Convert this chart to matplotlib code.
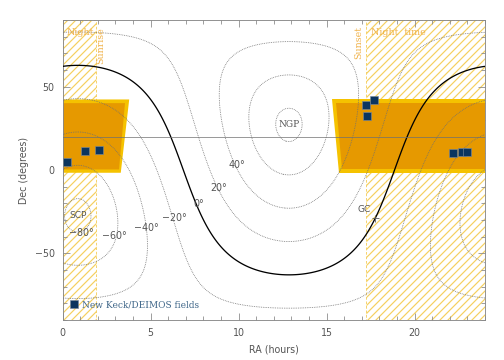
import numpy as np
import matplotlib
matplotlib.use("Agg")
import matplotlib.pyplot as plt
from matplotlib.patches import Polygon, Rectangle
from matplotlib.ticker import MultipleLocator

# Keck/DEIMOS fields (RA in hours, Dec in degrees)
field_ra = [0.24, 1.25, 2.05, 17.23, 17.70, 17.31, 22.18, 22.69, 22.95]
field_dec = [4.6, 11.6, 12.2, 39.2, 42.0, 32.4, 10.4, 11.0, 10.6]

# galactic reference points
ngp_ra, ngp_dec = 12.857, 27.128
sgp_ra, sgp_dec = 0.857, -27.128
gc_ra, gc_dec = 17.76, -28.94
keck_lat = 19.8

b_levels = [-80, -60, -40, -20, 20, 40, 60, 80]
b_labels = [("\u221280\u00b0", 1.05, -37.5), ("\u221260\u00b0", 2.95, -39.5),
            ("\u221240\u00b0", 4.75, -34.5), ("\u221220\u00b0", 6.35, -28.5),
            ("0\u00b0", 7.75, -20.5), ("20\u00b0", 8.85, -10.5), ("40\u00b0", 9.9, 3.0)]

# observable windows (outer yellow rim, inner orange fill)
left_outer = [(0, 42.4), (3.78, 42.4), (3.30, -1.6), (0, -1.6)]
left_inner = [(0, 40.2), (3.54, 40.2), (3.20, 0.4), (0, 0.4)]
right_outer = [(15.28, 42.4), (24, 42.4), (24, -1.6), (15.70, -1.6)]
right_inner = [(15.53, 40.2), (24, 40.2), (24, 0.4), (15.90, 0.4)]

# night-time hatched ranges in RA
sunrise_ra = 1.89
sunset_ra = 17.23

hatch_col = '#F5D060'
plt.rcParams['hatch.color'] = hatch_col
plt.rcParams['hatch.linewidth'] = 1.2

fig = plt.figure(figsize=(7, 5), dpi=72)
ax = fig.add_axes([0.1244, 0.111, 0.8379, 0.833])

# hatched night regions
ax.add_patch(Rectangle((0, -90), sunrise_ra, 180, facecolor='none', edgecolor=hatch_col,
                       hatch='///', lw=0.9, ls=(0, (3, 2)), zorder=1))
ax.add_patch(Rectangle((sunset_ra, -90), 24 - sunset_ra, 180, facecolor='none', edgecolor=hatch_col,
                       hatch='///', lw=0.9, ls=(0, (3, 2)), zorder=1))

for outer, inner in [(left_outer, left_inner), (right_outer, right_inner)]:
    ax.add_patch(Polygon(outer, closed=True, facecolor='#F5C200', edgecolor='none', zorder=2))
    ax.add_patch(Polygon(inner, closed=True, facecolor='#E69900', edgecolor='none', zorder=2))

# galactic latitude grid
ra = np.linspace(0, 24, 600)
dec = np.linspace(-90, 90, 400)
RA, DEC = np.meshgrid(ra, dec)
a = np.radians(RA * 15)
d = np.radians(DEC)
a0 = np.radians(ngp_ra * 15)
d0 = np.radians(ngp_dec)
sinb = np.sin(d) * np.sin(d0) + np.cos(d) * np.cos(d0) * np.cos(a - a0)
B = np.degrees(np.arcsin(np.clip(sinb, -1, 1)))

ax.contour(RA, DEC, B, levels=b_levels, colors='#707070', linewidths=0.8,
           linestyles=[(0, (1, 1.2))], zorder=3)
ax.contour(RA, DEC, B, levels=[0], colors='black', linewidths=1.3, zorder=3)

ax.axhline(keck_lat, color='#707070', lw=0.7, zorder=3)

for txt, x, y in b_labels:
    ax.text(x, y, txt, fontsize=9.5, color='#555555', ha='center', va='center', zorder=4)

ax.text(ngp_ra, ngp_dec, "NGP", family='DejaVu Serif', fontsize=9, color='#555555',
        ha='center', va='center', zorder=4)
ax.text(sgp_ra, sgp_dec, "SCP", fontsize=9, color='#555555', ha='center', va='center', zorder=4)
ax.plot([gc_ra], [gc_dec], marker='+', color='#555555', ms=7, mew=0.8, zorder=4)
ax.text(gc_ra - 0.25, gc_dec + 2.5, "GC", fontsize=9, color='#555555', ha='right', va='bottom', zorder=4)

ax.plot(field_ra, field_dec, ls='none', marker='s', ms=7.5, mfc='#0B355F', mec='#7a8a9a',
        mew=0.6, zorder=5, label='New Keck/DEIMOS fields')

night_col = '#F0B24A'
ax.text(0.2, 82.5, "Night", family='DejaVu Serif', fontsize=9.5, color=night_col, ha='left', va='center', zorder=4)
ax.text(2.15, 75, "Sunrise", family='DejaVu Serif', fontsize=9.5, color=night_col, rotation=90,
        ha='center', va='center', zorder=4)
ax.text(16.8, 76.5, "Sunset", family='DejaVu Serif', fontsize=9.5, color=night_col, rotation=90,
        ha='center', va='center', zorder=4)
ax.text(17.5, 82.5, "Night  time", family='DejaVu Serif', fontsize=9.5, color=night_col, ha='left',
        va='center', zorder=4)

leg = ax.legend(loc='lower left', bbox_to_anchor=(0.0, 0.015), frameon=False, handletextpad=0.2,
                handlelength=1.2, borderaxespad=0.3, prop={'family': 'DejaVu Serif', 'size': 9})
for t in leg.get_texts():
    t.set_color('#3F6689')

ax.set_xlim(0, 24)
ax.set_ylim(-90, 90)
ax.xaxis.set_major_locator(MultipleLocator(5))
ax.xaxis.set_minor_locator(MultipleLocator(1))
ax.yaxis.set_major_locator(MultipleLocator(50))
ax.yaxis.set_minor_locator(MultipleLocator(10))
ax.tick_params(which='both', direction='in', top=True, right=True, colors='#888888',
               labelcolor='#555555', labelsize=9.5)
ax.tick_params(which='major', length=7, width=0.8, pad=8)
ax.tick_params(which='minor', length=4, width=0.8)
for s in ax.spines.values():
    s.set_color('#888888')
    s.set_linewidth(0.9)

ax.set_xlabel("RA (hours)", fontsize=9.5, color='#555555', labelpad=6)
ax.set_ylabel("Dec (degrees)", fontsize=9.5, color='#555555', labelpad=6)

fig.savefig("out.png", dpi=72)
